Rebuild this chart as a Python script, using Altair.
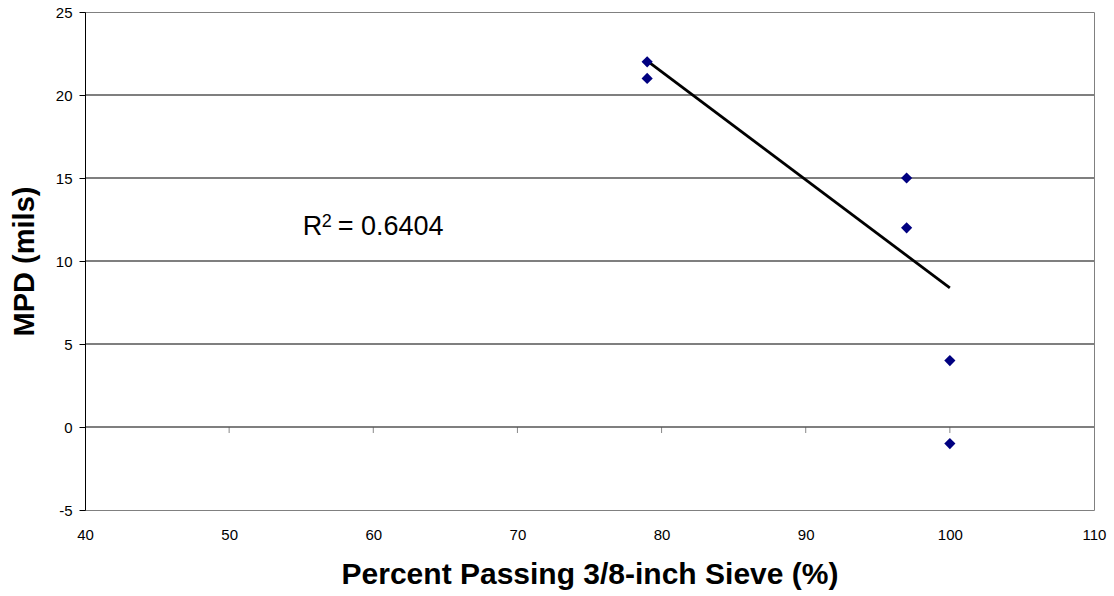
import altair as alt
import pandas as pd

# ---- data ----
passing = [79, 79, 97, 97, 100, 100]
mpd = [22, 21, 15, 12, 4, -1]
trend_x = [79, 100]
trend_y = [22.05, 8.38]
grid_values = [0, 5, 10, 15, 20]
x_tick_values = [40, 50, 60, 70, 80, 90, 100, 110]
y_tick_values = [-5, 0, 5, 10, 15, 20, 25]
zero_axis_ticks = [50, 60, 70, 80, 90, 100]
annot_x = [55.1]
annot_y = [11.55]
r2_value = "= 0.6404"

FONT = "Liberation Sans"

pts = pd.DataFrame({"x": passing, "y": mpd})
trend = pd.DataFrame({"x": trend_x, "y": trend_y})
grid = pd.DataFrame({"y": grid_values})
ticks = pd.DataFrame({"x": zero_axis_ticks, "y": [0] * len(zero_axis_ticks)})
annot = pd.DataFrame({"x": annot_x, "y": annot_y})

x_scale = alt.Scale(domain=[40, 110], nice=False, zero=False)
y_scale = alt.Scale(domain=[-5, 25], nice=False, zero=False)

x_axis = alt.Axis(
    values=x_tick_values, title="Percent Passing 3/8-inch Sieve (%)",
    domain=False, ticks=False, tickSize=0, grid=False,
    labelFont=FONT, labelFontSize=15, labelColor="black", labelPadding=17,
    labelFlush=False, labelOverlap=False, labelExpr="'' + datum.value",
    titleFont=FONT, titleFontSize=30, titleFontWeight="bold", titleColor="black",
    titleY=64, titleBaseline="middle",
)
y_axis = alt.Axis(
    values=y_tick_values, title="MPD (mils)",
    domain=True, domainColor="black", domainWidth=1,
    ticks=True, tickColor="black", tickSize=6, grid=False,
    labelFont=FONT, labelFontSize=15, labelColor="black", labelPadding=7,
    labelFlush=False, labelOverlap=False, labelExpr="'' + datum.value",
    titleFont=FONT, titleFontSize=29, titleFontWeight="bold", titleColor="black",
    titleX=-61, titleY=249, titleBaseline="middle",
)

X = alt.X("x:Q", scale=x_scale, axis=x_axis)
Y = alt.Y("y:Q", scale=y_scale, axis=y_axis)

grid_layer = alt.Chart(grid).mark_rule(color="black", strokeWidth=1.2).encode(y=Y)

tick_layer = alt.Chart(ticks).mark_tick(
    orient="vertical", size=6, thickness=1, yOffset=3, color="#555555"
).encode(x=X, y=Y)

trend_layer = alt.Chart(trend).mark_line(color="black", strokeWidth=2.8).encode(x=X, y=Y)

point_layer = alt.Chart(pts).mark_point(
    shape="diamond", filled=True, size=125, color="#000080", opacity=1
).encode(x=X, y=Y)

txt_r = alt.Chart(annot).mark_text(
    align="left", baseline="alphabetic", font=FONT, fontSize=27, color="black"
).encode(x=X, y=Y, text=alt.value("R"))
txt_sup = alt.Chart(annot).mark_text(
    align="left", baseline="alphabetic", font=FONT, fontSize=18, color="black", dx=19, dy=-8
).encode(x=X, y=Y, text=alt.value("2"))
txt_val = alt.Chart(annot).mark_text(
    align="left", baseline="alphabetic", font=FONT, fontSize=27, color="black", dx=35
).encode(x=X, y=Y, text=alt.value(r2_value))

chart = alt.layer(
    grid_layer, tick_layer, trend_layer, point_layer, txt_r, txt_sup, txt_val
).properties(
    width=1009, height=498,
    padding={"left": 85, "top": 12, "right": 20, "bottom": 86},
    autosize=alt.AutoSizeParams(type="none"),
    background="white",
).configure_view(stroke="#808080", strokeWidth=1)

chart.save("out.html", embed_options={"renderer": "svg", "actions": False})
